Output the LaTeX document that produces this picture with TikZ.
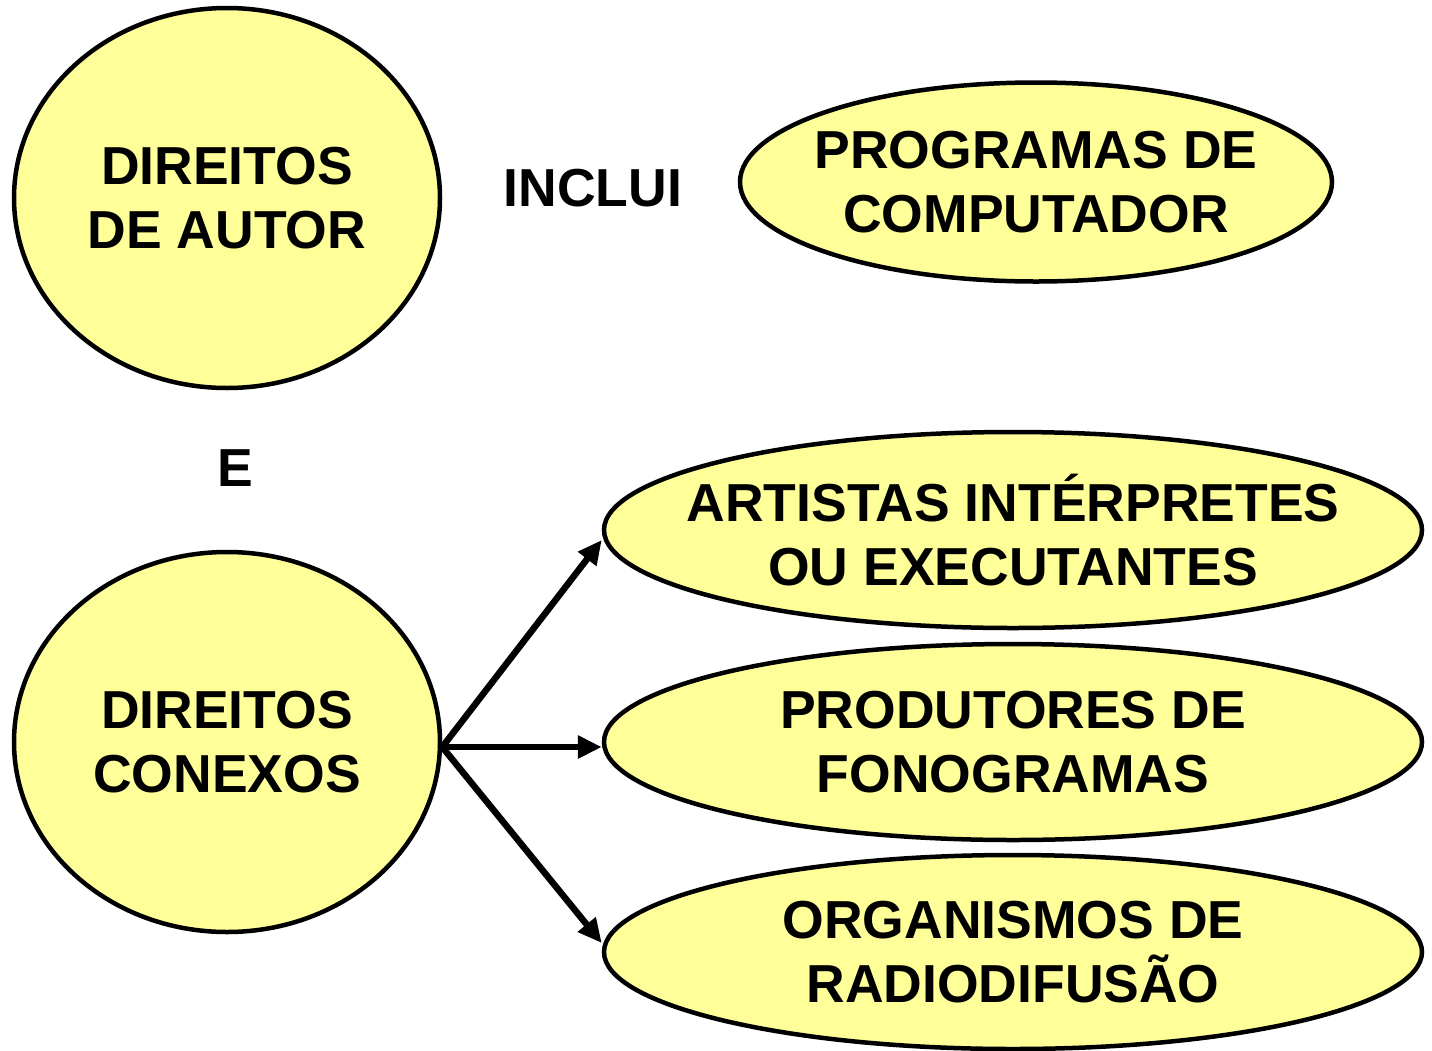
\documentclass[tikz,border=0pt]{standalone}
\usepackage{fontspec}
\setmainfont{Liberation Sans}
\usetikzlibrary{shapes.geometric,arrows.meta}
\definecolor{fillyellow}{HTML}{FFFF99}
\begin{document}
\begin{tikzpicture}[x=1pt,y=-1pt,
  bubble/.style={ellipse, draw=black, line width=4.5pt, fill=fillyellow, inner sep=0pt},
  txt/.style={inner sep=0pt, align=center, font=\fontsize{53.5}{64}\selectfont\bfseries},
  lbl/.style={inner sep=0pt, font=\fontsize{53.5}{64}\selectfont\bfseries},
  conn/.style={line width=6.5pt, -{Triangle[length=24pt,width=22pt]}}]
\useasboundingbox (0,0) rectangle (1432,1050);
\node[bubble, minimum width=426pt, minimum height=380pt,
  label={[txt]center:DIREITOS\\DE AUTOR}] (da) at (227,198) {};
\node[bubble, minimum width=426pt, minimum height=380pt,
  label={[txt]center:DIREITOS\\CONEXOS}] (dc) at (227,742) {};
\node[bubble, minimum width=592pt, minimum height=199pt,
  label={[txt]center:PROGRAMAS DE\\COMPUTADOR}] (pc) at (1036,182) {};
\node[bubble, minimum width=818pt, minimum height=196pt,
  label={[txt]center:ARTISTAS INTÉRPRETES\\OU EXECUTANTES}] (art) at (1013,530) {};
\node[bubble, minimum width=818pt, minimum height=196pt,
  label={[txt]center:PRODUTORES DE\\FONOGRAMAS}] (prod) at (1013,742) {};
\node[bubble, minimum width=818pt, minimum height=194pt,
  label={[txt]center:ORGANISMOS DE\\RADIODIFUSÃO}] (org) at (1013,952) {};
\node[lbl] (inc) at (593,188) {INCLUI};
\node[lbl] (e) at (235,468) {E};
\draw[conn] ([yshift=-5pt]dc.east) -- ([yshift=-10pt]art.west);
\draw[conn] ([yshift=-5pt]dc.east) -- ([yshift=-5pt]prod.west);
\draw[conn] ([yshift=-5pt]dc.east) -- ([yshift=9pt]org.west);
\end{tikzpicture}
\end{document}
